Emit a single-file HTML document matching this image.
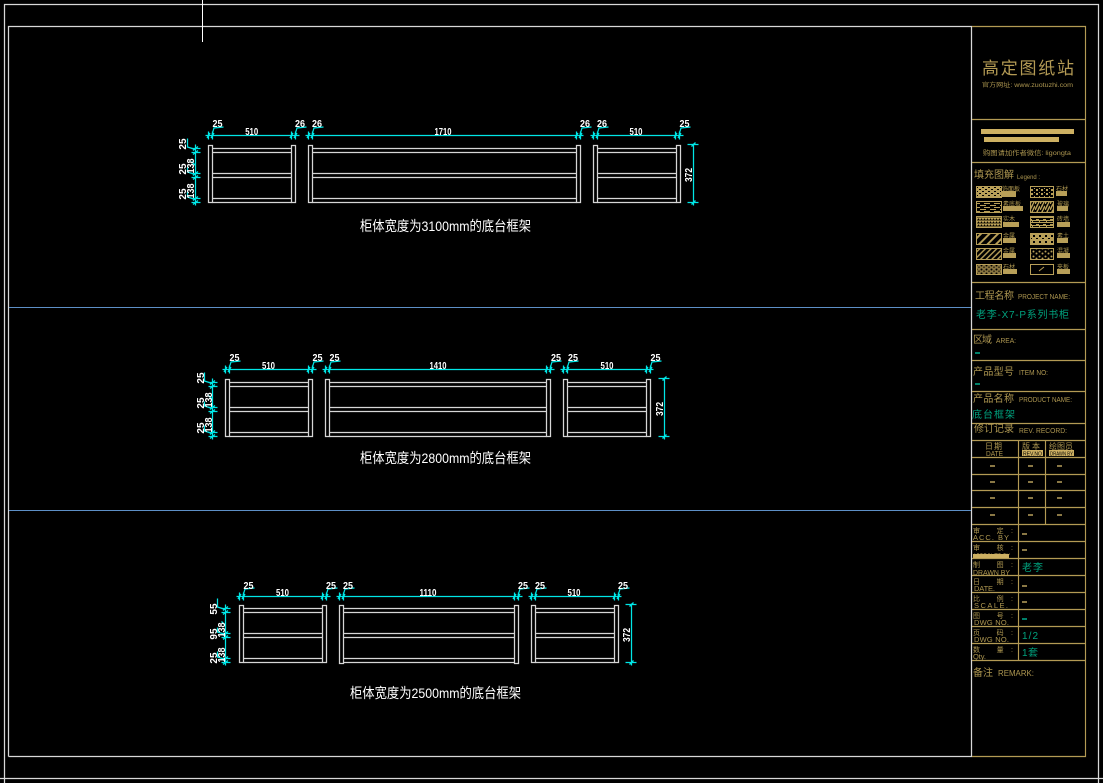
<!DOCTYPE html>
<html lang="zh">
<head>
<meta charset="utf-8">
<title>底台框架</title>
<style>
html,body{margin:0;padding:0;background:#000;width:1103px;height:783px;overflow:hidden}
svg{display:block}
text{font-family:"Liberation Sans","Noto Sans CJK SC",sans-serif}
.d{fill:#fff;font-size:10px;font-weight:bold;text-anchor:middle}
.cap{fill:#fff;font-size:14px}
.g{fill:#ad9650}
.t{fill:#00a27e}
.s{font-size:7.5px}
.m{font-size:10px}
.x{font-size:5px}
.c{fill:none;stroke:#00e6e6;stroke-width:1.25}
</style>
</head>
<body>
<svg xmlns="http://www.w3.org/2000/svg" width="1103" height="783" viewBox="0 0 1103 783">
<defs>
<pattern id="p1" width="6" height="4" patternUnits="userSpaceOnUse"><rect width="6" height="4" fill="#b89f58"/><rect x="1" y="1" width="2" height="1" fill="#000"/><rect x="4" y="3" width="2" height="1" fill="#000"/></pattern>
<pattern id="p2" width="5" height="4" patternUnits="userSpaceOnUse"><rect x="1" y="1" width="2" height="2" fill="#b89f58"/><rect x="4" y="0" width="1" height="1" fill="#b89f58"/></pattern>
<pattern id="p3" width="10" height="4" patternUnits="userSpaceOnUse"><path d="M0 1.5H6M4 3.5H10" stroke="#b89f58" fill="none"/></pattern>
<pattern id="p4" width="5" height="6" patternUnits="userSpaceOnUse"><path d="M0 6L3 0M3 6L5 2" stroke="#b89f58" stroke-width="1.5" fill="none"/></pattern>
<pattern id="p5" width="3" height="3" patternUnits="userSpaceOnUse"><rect width="3" height="3" fill="#6f5f30"/><rect width="1" height="1" fill="#000"/><rect x="1" y="2" width="2" height="1" fill="#c0a65c"/></pattern>
<pattern id="p6" width="7" height="5" patternUnits="userSpaceOnUse"><path d="M0 .5H7M3.5 .5V2.5M0 2.5H7M0 4.5H3" stroke="#b89f58" fill="none"/></pattern>
<pattern id="p7" width="6" height="6" patternTransform="rotate(-45)" patternUnits="userSpaceOnUse"><rect width="6" height="2" fill="#b89f58"/></pattern>
<pattern id="p8" width="6" height="6" patternUnits="userSpaceOnUse"><rect width="6" height="6" fill="#b89f58"/><rect x="1" y="1" width="2" height="2" fill="#000"/><rect x="4" y="4" width="2" height="1" fill="#000"/></pattern>
<pattern id="p9" width="4" height="4" patternTransform="rotate(-45)" patternUnits="userSpaceOnUse"><rect width="4" height="1.4" fill="#b89f58"/></pattern>
<pattern id="p10" width="6" height="5" patternUnits="userSpaceOnUse"><circle cx="1.5" cy="1.5" r="1" fill="#b89f58"/><circle cx="4.5" cy="3.5" r="1" fill="#b89f58"/></pattern>
<pattern id="p11" width="5" height="4" patternUnits="userSpaceOnUse"><rect width="5" height="4" fill="#8a7640"/><circle cx="1.5" cy="1.5" r="1" fill="#000"/><circle cx="4" cy="3.2" r=".7" fill="#000"/></pattern>

<g id="cab" fill="none" stroke="#d6d6d6" stroke-width="1.25">
<rect x="0" y="0" width="4" height="57"/><rect x="83" y="0" width="4" height="57"/>
<path d="M4 3H83M4 7H83M4 28H83M4 32H83M4 53H83"/>
</g>
<g id="tk" class="c">
<path d="M0 -4V4M4 -4V4M-1.5 2.5L1.5 -2.5M2.5 2.5L5.5 -2.5"/>
<path d="M3.5 -1L5.5 -7.5L15 -8.5"/>
</g>
<g id="ltk" class="c">
<path d="M-4 0H5M-4 4H5M-2.5 2L2.5 -2M-2.5 6L2.5 2"/>
</g>
<g id="ldim" class="c">
<path d="M0 -1V60"/>
<use href="#ltk" y="3"/><use href="#ltk" y="28"/><use href="#ltk" y="53"/>
<path d="M0 4L-8 1.5V-7M0 29L-8 26.5V22M0 54L-8 51.5V46M0 20L-4 16"/>
</g>
<g id="rdim" class="c">
<path d="M0 -2V60M-6 -1H5M-6 57H5M-2 1L2 -3M-2 59L2 55"/>
</g>
</defs>

<rect width="1103" height="783" fill="#000"/>

<!-- frames -->
<g fill="none" stroke="#d8d8d8" stroke-width="1.25">
<path d="M4.5 783V4.5H1098.5V783"/>
<path d="M0 778.5H1103"/>
<path d="M8.5 756.5V26.5H971.5V756.5H8.5"/>
</g>
<path d="M202.5 0V42" stroke="#fff"/>
<path d="M9 307.5H971M9 510.5H971" stroke="#5d8fc6"/>

<!-- Set A -->
<g transform="translate(208.5 145.5)">
<use href="#cab"/>
<g fill="none" stroke="#d6d6d6" stroke-width="1.25"><rect x="100" y="0" width="4" height="57"/><rect x="368" y="0" width="4" height="57"/><path d="M104 3H368M104 7H368M104 28H368M104 32H368M104 53H368M104 57H368"/></g>
<use href="#cab" x="385"/>
<path d="M4 57H83M389 57H468" stroke="#d6d6d6" stroke-width="1.25" fill="none"/>
<g transform="translate(0 -10)">
<path d="M-3 0H91M97 0H375M382 0H475" class="c"/>
<use href="#tk" x="0"/><use href="#tk" x="83"/><use href="#tk" x="100"/><use href="#tk" x="368"/><use href="#tk" x="385"/><use href="#tk" x="467"/>
</g>
<use href="#ldim" x="-13"/>
<use href="#rdim" x="485"/>
</g>
<g class="d">
<text x="217.5" y="127" textLength="10" lengthAdjust="spacingAndGlyphs">25</text>
<text x="300" y="127" textLength="10" lengthAdjust="spacingAndGlyphs">26</text>
<text x="317" y="127" textLength="10" lengthAdjust="spacingAndGlyphs">26</text>
<text x="251.7" y="135" textLength="13" lengthAdjust="spacingAndGlyphs">510</text>
<text x="443" y="135" textLength="17" lengthAdjust="spacingAndGlyphs">1710</text>
<text x="585" y="127" textLength="10" lengthAdjust="spacingAndGlyphs">26</text>
<text x="602" y="127" textLength="10" lengthAdjust="spacingAndGlyphs">26</text>
<text x="636" y="135" textLength="13" lengthAdjust="spacingAndGlyphs">510</text>
<text x="684.5" y="127" textLength="10" lengthAdjust="spacingAndGlyphs">25</text>
<text transform="translate(186 144) rotate(-90)">25</text>
<text transform="translate(186 169) rotate(-90)">25</text>
<text transform="translate(186 194) rotate(-90)">25</text>
<text transform="translate(194 166) rotate(-90)" textLength="15" lengthAdjust="spacingAndGlyphs">138</text>
<text transform="translate(194 191) rotate(-90)" textLength="15" lengthAdjust="spacingAndGlyphs">138</text>
<text transform="translate(692 175) rotate(-90)" textLength="14" lengthAdjust="spacingAndGlyphs">372</text>
</g>
<text class="cap" x="360" y="231" textLength="171" lengthAdjust="spacingAndGlyphs">柜体宽度为3100mm的底台框架</text>

<!-- Set B -->
<g transform="translate(225.5 379.5)">
<use href="#cab"/>
<g fill="none" stroke="#d6d6d6" stroke-width="1.25"><rect x="100" y="0" width="4" height="57"/><rect x="321" y="0" width="4" height="57"/><path d="M104 3H321M104 7H321M104 28H321M104 32H321M104 53H321M104 57H321"/></g>
<use href="#cab" x="338"/>
<path d="M4 57H83M342 57H421" stroke="#d6d6d6" stroke-width="1.25" fill="none"/>
<g transform="translate(0 -10)">
<path d="M-3 0H91M97 0H329M335 0H428" class="c"/>
<use href="#tk" x="0"/><use href="#tk" x="83"/><use href="#tk" x="100"/><use href="#tk" x="321"/><use href="#tk" x="338"/><use href="#tk" x="421"/>
</g>
<use href="#ldim" x="-13"/>
<use href="#rdim" x="439"/>
</g>
<g class="d">
<text x="234.5" y="361" textLength="10" lengthAdjust="spacingAndGlyphs">25</text>
<text x="317.5" y="361" textLength="10" lengthAdjust="spacingAndGlyphs">25</text>
<text x="334.5" y="361" textLength="10" lengthAdjust="spacingAndGlyphs">25</text>
<text x="268.5" y="369" textLength="13" lengthAdjust="spacingAndGlyphs">510</text>
<text x="438" y="369" textLength="17" lengthAdjust="spacingAndGlyphs">1410</text>
<text x="556" y="361" textLength="10" lengthAdjust="spacingAndGlyphs">25</text>
<text x="573" y="361" textLength="10" lengthAdjust="spacingAndGlyphs">25</text>
<text x="607" y="369" textLength="13" lengthAdjust="spacingAndGlyphs">510</text>
<text x="655.5" y="361" textLength="10" lengthAdjust="spacingAndGlyphs">25</text>
<text transform="translate(204 378) rotate(-90)">25</text>
<text transform="translate(204 403) rotate(-90)">25</text>
<text transform="translate(204 428) rotate(-90)">25</text>
<text transform="translate(212 400) rotate(-90)" textLength="15" lengthAdjust="spacingAndGlyphs">138</text>
<text transform="translate(212 425) rotate(-90)" textLength="15" lengthAdjust="spacingAndGlyphs">138</text>
<text transform="translate(663 409) rotate(-90)" textLength="14" lengthAdjust="spacingAndGlyphs">372</text>
</g>
<text class="cap" x="360" y="463" textLength="171" lengthAdjust="spacingAndGlyphs">柜体宽度为2800mm的底台框架</text>

<!-- Set C -->
<g transform="translate(239.5 605.5)">
<use href="#cab"/>
<g fill="none" stroke="#d6d6d6" stroke-width="1.25"><rect x="100" y="0" width="4" height="58"/><rect x="275" y="0" width="4" height="58"/><path d="M104 3H275M104 7H275M104 28H275M104 32H275M104 53H275M104 57H275"/></g>
<use href="#cab" x="292"/>
<path d="M4 57H83M296 57H375" stroke="#d6d6d6" stroke-width="1.25" fill="none"/>
<g transform="translate(0 -9)">
<path d="M-3 0H91M97 0H283M289 0H382" class="c"/>
<use href="#tk" x="0"/><use href="#tk" x="83"/><use href="#tk" x="100"/><use href="#tk" x="275"/><use href="#tk" x="292"/><use href="#tk" x="375"/>
</g>
<use href="#ldim" x="-14"/>
<use href="#rdim" x="392"/>
</g>
<g class="d">
<text x="248.5" y="589" textLength="10" lengthAdjust="spacingAndGlyphs">25</text>
<text x="331" y="589" textLength="10" lengthAdjust="spacingAndGlyphs">25</text>
<text x="348" y="589" textLength="10" lengthAdjust="spacingAndGlyphs">25</text>
<text x="282.5" y="596" textLength="13" lengthAdjust="spacingAndGlyphs">510</text>
<text x="428" y="596" textLength="17" lengthAdjust="spacingAndGlyphs">1110</text>
<text x="523" y="589" textLength="10" lengthAdjust="spacingAndGlyphs">25</text>
<text x="540" y="589" textLength="10" lengthAdjust="spacingAndGlyphs">25</text>
<text x="574" y="596" textLength="13" lengthAdjust="spacingAndGlyphs">510</text>
<text x="623" y="589" textLength="10" lengthAdjust="spacingAndGlyphs">25</text>
<text transform="translate(217 609) rotate(-90)">55</text>
<text transform="translate(217 634) rotate(-90)">95</text>
<text transform="translate(217 658) rotate(-90)">25</text>
<text transform="translate(225 630) rotate(-90)" textLength="15" lengthAdjust="spacingAndGlyphs">138</text>
<text transform="translate(225 655) rotate(-90)" textLength="15" lengthAdjust="spacingAndGlyphs">138</text>
<text transform="translate(630 635) rotate(-90)" textLength="14" lengthAdjust="spacingAndGlyphs">372</text>
</g>
<text class="cap" x="350" y="698" textLength="171" lengthAdjust="spacingAndGlyphs">柜体宽度为2500mm的底台框架</text>

<!-- title block lines -->
<g fill="none" stroke="#b39a54" stroke-width="1.15">
<path d="M972 26.5H1085.5V756.5H972"/>
<path d="M972 119.5H1085M972 162.5H1085M972 282.5H1085M972 329.5H1085M972 360.5H1085M972 391.5H1085M972 423.5H1085M972 440.5H1085M972 457.5H1085M972 474.5H1085M972 490.5H1085M972 507.5H1085M972 524.5H1085M972 541.5H1085M972 558.5H1085M972 575.5H1085M972 592.5H1085M972 609.5H1085M972 626.5H1085M972 643.5H1085M972 660.5H1085"/>
<path d="M1018.5 440V660M1045.5 440V524"/>
</g>

<!-- logo -->
<text x="982" y="74" font-size="17" fill="#b39a54" textLength="92" lengthAdjust="spacing">高定图纸站</text>
<text class="x g" x="982" y="87" textLength="91" lengthAdjust="spacingAndGlyphs" style="font-size:6px">官方网址: www.zuotuzhi.com</text>
<rect x="981" y="129" width="93" height="5" fill="#cdb062"/>
<rect x="984" y="137" width="75" height="5" fill="#cdb062"/>
<text class="g" x="983" y="155" textLength="88" lengthAdjust="spacingAndGlyphs" style="font-size:6.5px">购图请加作者微信: ligongta</text>

<!-- legend -->
<text class="g m" x="974" y="178" textLength="40" lengthAdjust="spacing">填充图解</text>
<text class="g x" x="1017" y="179" textLength="23" lengthAdjust="spacingAndGlyphs" style="font-size:6px">Legend :</text>
<g stroke="#b89f58">
<rect x="976.5" y="186.5" width="25" height="11" fill="url(#p1)"/>
<rect x="976.5" y="201.5" width="25" height="11" fill="url(#p3)"/>
<rect x="976.5" y="216.5" width="25" height="11" fill="url(#p5)"/>
<rect x="976.5" y="233.5" width="25" height="11" fill="url(#p7)"/>
<rect x="976.5" y="248.5" width="25" height="11" fill="url(#p9)"/>
<rect x="976.5" y="264.5" width="25" height="10" fill="url(#p11)"/>
<rect x="1030.5" y="186.5" width="23" height="11" fill="url(#p2)"/>
<rect x="1030.5" y="201.5" width="23" height="11" fill="url(#p4)"/>
<rect x="1030.5" y="216.5" width="23" height="11" fill="url(#p6)"/>
<rect x="1030.5" y="233.5" width="23" height="11" fill="url(#p8)"/>
<rect x="1030.5" y="248.5" width="23" height="11" fill="url(#p10)"/>
<rect x="1030.5" y="264.5" width="23" height="10" fill="#000"/>
</g>
<path d="M1039 271L1044 267" stroke="#b89f58"/>
<g fill="#b89f58">
<rect x="1002" y="191" width="14" height="6"/>
<rect x="1003" y="206" width="20" height="5"/>
<rect x="1003" y="222" width="16" height="5"/>
<rect x="1003" y="238" width="13" height="5"/>
<rect x="1003" y="253" width="13" height="5"/>
<rect x="1003" y="269" width="14" height="5"/>
<rect x="1056" y="191" width="11" height="5"/>
<rect x="1057" y="206" width="11" height="5"/>
<rect x="1057" y="222" width="13" height="5"/>
<rect x="1057" y="238" width="11" height="5"/>
<rect x="1057" y="253" width="13" height="5"/>
<rect x="1057" y="269" width="13" height="5"/>
</g>
<g class="g" style="font-size:6px">
<text x="1002" y="191">饰面板</text><text x="1003" y="206">素底板</text><text x="1003" y="221">实木</text>
<text x="1003" y="238">金属</text><text x="1003" y="253">金属</text><text x="1003" y="269">石材</text>
<text x="1056" y="191">石材</text><text x="1057" y="206">玻璃</text><text x="1057" y="221">砖墙</text>
<text x="1057" y="238">素土</text><text x="1057" y="253">混凝</text><text x="1057" y="269">夹板</text>
</g>

<!-- project -->
<g class="g">
<text class="m" x="975" y="299" textLength="39" lengthAdjust="spacing">工程名称</text>
<text class="s" x="1018" y="299" textLength="52" lengthAdjust="spacingAndGlyphs">PROJECT NAME:</text>
<text class="m" x="973" y="343" textLength="19" lengthAdjust="spacing">区域</text>
<text class="s" x="996" y="343" textLength="20" lengthAdjust="spacingAndGlyphs">AREA:</text>
<text class="m" x="973" y="375" textLength="41" lengthAdjust="spacing">产品型号</text>
<text class="s" x="1019" y="375" textLength="29" lengthAdjust="spacingAndGlyphs">ITEM NO:</text>
<text class="m" x="973" y="402" textLength="41" lengthAdjust="spacing">产品名称</text>
<text class="s" x="1019" y="402" textLength="53" lengthAdjust="spacingAndGlyphs">PRODUCT NAME:</text>
<text class="m" x="974" y="432" textLength="40" lengthAdjust="spacing">修订记录</text>
<text class="s" x="1019" y="433" textLength="48" lengthAdjust="spacingAndGlyphs">REV. RECORD:</text>
<text x="985" y="449" font-size="8" textLength="17" lengthAdjust="spacing">日期</text>
<text class="s" x="986" y="456" textLength="17" lengthAdjust="spacingAndGlyphs">DATE</text>
<text x="1022" y="449" font-size="8" textLength="18" lengthAdjust="spacing">版本</text>
<text x="1049" y="449" font-size="8" textLength="24" lengthAdjust="spacing">绘图员</text>
</g>
<text class="t m" x="976" y="318" textLength="93" lengthAdjust="spacing">老李-X7-P系列书柜</text>
<text class="t m" x="972" y="418" textLength="43" lengthAdjust="spacing">底台框架</text>
<rect x="975" y="352" width="5" height="2" fill="#00806a"/>
<rect x="975" y="383" width="5" height="2" fill="#00806a"/>
<rect x="1022" y="450" width="21" height="6" fill="#cdb062"/>
<rect x="1049" y="450" width="25" height="6" fill="#cdb062"/>
<text x="1023" y="455.5" font-size="5.5" fill="#000" textLength="19" lengthAdjust="spacingAndGlyphs">REV.NO</text>
<text x="1050" y="455.5" font-size="5.5" fill="#000" textLength="23" lengthAdjust="spacingAndGlyphs">DRAWN BY</text>

<!-- revision dashes -->
<g fill="#8a7845">
<rect x="990" y="465" width="5" height="2"/><rect x="1028" y="465" width="5" height="2"/><rect x="1057" y="465" width="5" height="2"/>
<rect x="990" y="481" width="5" height="2"/><rect x="1028" y="481" width="5" height="2"/><rect x="1057" y="481" width="5" height="2"/>
<rect x="990" y="497" width="5" height="2"/><rect x="1028" y="497" width="5" height="2"/><rect x="1057" y="497" width="5" height="2"/>
<rect x="990" y="514" width="5" height="2"/><rect x="1028" y="514" width="5" height="2"/><rect x="1057" y="514" width="5" height="2"/>
<rect x="1022" y="533" width="5" height="2"/><rect x="1022" y="549" width="5" height="2"/>
<rect x="1022" y="585" width="5" height="2"/><rect x="1022" y="601" width="5" height="2"/>
</g>
<rect x="1022" y="618" width="5" height="2" fill="#00806a"/>

<!-- sign-off rows -->
<g class="g" style="font-size:7px">
<text x="973" y="533" textLength="40" lengthAdjust="spacing">审 定:</text>
<text x="973" y="550" textLength="40" lengthAdjust="spacing">审 核:</text>
<text x="973" y="567" textLength="40" lengthAdjust="spacing">制 图:</text>
<text x="973" y="584" textLength="40" lengthAdjust="spacing">日 期:</text>
<text x="973" y="601" textLength="40" lengthAdjust="spacing">比 例:</text>
<text x="973" y="618" textLength="40" lengthAdjust="spacing">图 号:</text>
<text x="973" y="635" textLength="40" lengthAdjust="spacing">页 码:</text>
<text x="973" y="652" textLength="40" lengthAdjust="spacing">数 量:</text>
</g>
<g class="g s">
<text x="973" y="540" textLength="36" lengthAdjust="spacing">ACC. BY</text>
<text x="973" y="575" textLength="37" lengthAdjust="spacingAndGlyphs">DRAWN BY</text>
<text x="974" y="591" textLength="21" lengthAdjust="spacing">DATE.</text>
<text x="974" y="608" textLength="34" lengthAdjust="spacing">SCALE.</text>
<text x="974" y="625" textLength="35" lengthAdjust="spacing">DWG NO.</text>
<text x="974" y="642" textLength="35" lengthAdjust="spacing">DWG NO.</text>
<text x="973" y="659" textLength="13" lengthAdjust="spacing">Qty.</text>
</g>
<rect x="973" y="554" width="36" height="4" fill="#cdb062"/>
<text x="973" y="558" font-size="6" fill="#cdb062" textLength="37" lengthAdjust="spacingAndGlyphs">APPROVED BY</text>
<text class="t m" x="1022" y="571" textLength="21" lengthAdjust="spacing">老李</text>
<text class="t m" x="1022" y="639" textLength="16" lengthAdjust="spacing">1/2</text>
<text class="t m" x="1022" y="656" textLength="16" lengthAdjust="spacing">1套</text>
<text class="g m" x="973" y="676" textLength="20" lengthAdjust="spacing">备注</text>
<text class="g" x="998" y="676" font-size="8" textLength="36" lengthAdjust="spacingAndGlyphs">REMARK:</text>
</svg>
</body>
</html>
